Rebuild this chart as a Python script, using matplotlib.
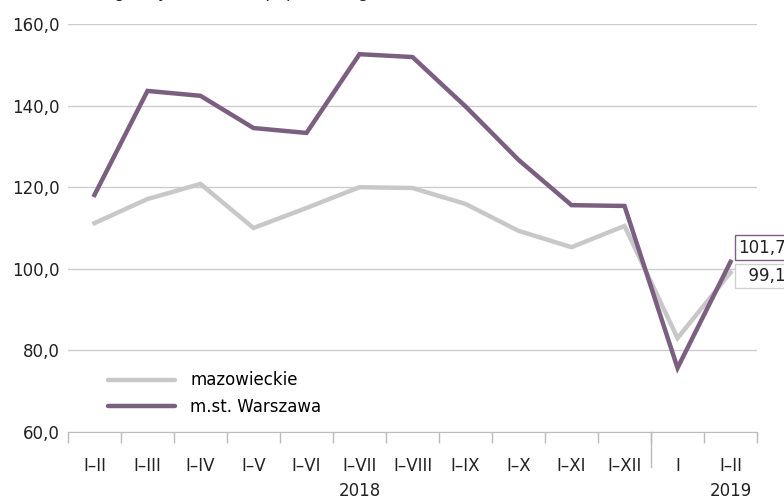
import matplotlib.pyplot as plt
import numpy as np

periods = ['I–II', 'I–III', 'I–IV', 'I–V', 'I–VI', 'I–VII', 'I–VIII',
           'I–IX', 'I–X', 'I–XI', 'I–XII', 'I', 'I–II']
mazowieckie = [111.2, 117.1, 120.8, 110.0, 114.9, 120.0, 119.8,
               115.9, 109.3, 105.3, 110.5, 83.0, 99.1]
warszawa = [118.1, 143.6, 142.4, 134.5, 133.3, 152.6, 151.9,
            139.8, 126.7, 115.6, 115.4, 75.7, 101.7]
years = ['2018', '2019']

plt.rcParams['font.family'] = ['Liberation Sans Narrow', 'DejaVu Sans']

grey = '#c8c8c8'
purple = '#7b5f80'

fig = plt.figure(figsize=(7.84, 4.99), dpi=100)
ax = fig.add_axes([0.0867, 0.1343, 0.8789, 0.8176])

x = np.arange(len(periods))
ax.plot(x, mazowieckie, color=grey, lw=3.2, solid_joinstyle='miter',
        label='mazowieckie', zorder=3)
ax.plot(x, warszawa, color=purple, lw=3.2, solid_joinstyle='miter',
        label='m.st. Warszawa', zorder=4)

ax.set_xlim(-0.5, len(periods) - 0.5)
ax.set_ylim(60, 160)
ax.set_yticks(np.arange(60, 161, 20))
ax.set_yticklabels([f'{v:.1f}'.replace('.', ',') for v in np.arange(60, 161, 20)],
                   fontsize=12, color='#222222')
ax.yaxis.grid(True, color='#cccccc', lw=1)
ax.set_axisbelow(True)
ax.tick_params(axis='y', length=0, pad=6)

ax.set_xticks(x)
ax.set_xticklabels(periods, fontsize=12, color='#222222')
ax.set_xticks(np.arange(-0.5, len(periods)), minor=True)
ax.tick_params(axis='x', which='major', length=0, pad=18)
ax.tick_params(axis='x', which='minor', length=8, color='#bbbbbb', width=1)

for s in ['top', 'right', 'left']:
    ax.spines[s].set_visible(False)
ax.spines['bottom'].set_color('#bbbbbb')

# divider between years
ax.plot([10.5, 10.5], [0, -0.085], transform=ax.get_xaxis_transform(),
        color='#bbbbbb', lw=1, clip_on=False)

ax.text(5.0, -0.145, years[0], transform=ax.get_xaxis_transform(),
        ha='center', va='center', fontsize=12, color='#222222')
ax.text(12.0, -0.145, years[1], transform=ax.get_xaxis_transform(),
        ha='center', va='center', fontsize=12, color='#222222')

# end value labels
ax.annotate(f'{warszawa[-1]:.1f}'.replace('.', ','), xy=(12.15, 105.2),
            xycoords='data', ha='left', va='center', fontsize=12,
            color='#222222', annotation_clip=False,
            bbox=dict(boxstyle='square,pad=0.2', fc='white', ec=purple, lw=1))
ax.annotate('  ' + f'{mazowieckie[-1]:.1f}'.replace('.', ','), xy=(12.15, 98.2),
            xycoords='data', ha='left', va='center', fontsize=12,
            color='#222222', annotation_clip=False,
            bbox=dict(boxstyle='square,pad=0.2', fc='white', ec='#d0d0d0', lw=1))

leg = ax.legend(loc='lower left', bbox_to_anchor=(0.037, 0.003), frameon=False,
                fontsize=12, handlelength=4.0, handletextpad=0.9,
                labelspacing=0.5)
for h in leg.get_lines():
    h.set_solid_capstyle('round')

fig.text(0.088, 1.016, 'analogiczny okres roku poprzedniego = 100',
         fontsize=12, color='#222222', ha='left', va='center')

fig.savefig('out.png', dpi=100)
